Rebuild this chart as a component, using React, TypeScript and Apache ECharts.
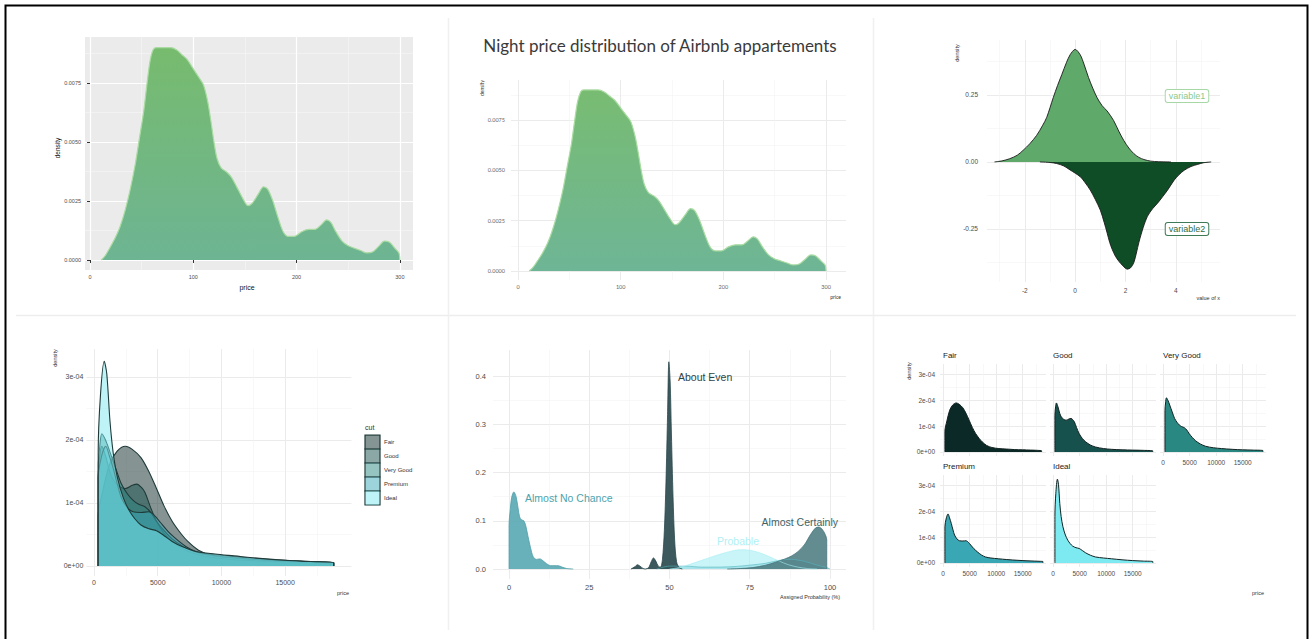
import React, { useEffect, useRef } from 'react';
import * as echarts from 'echarts';

type P = [number, number];

// ---------- data ----------
const priceDensity: P[] = [
  [11, 0], [15, 0.0002], [19, 0.0005], [24, 0.0009], [29, 0.0014], [34, 0.0021], [39, 0.003], [44, 0.0041],
  [48, 0.0052], [52, 0.0063], [55, 0.0074], [58, 0.0084], [61, 0.0089], [64, 0.009], [70, 0.009], [78, 0.009],
  [84, 0.0089], [89, 0.0087], [94, 0.0085], [100, 0.0081], [106, 0.0077], [110, 0.0074], [114, 0.0067],
  [117, 0.0059], [120, 0.005], [123, 0.0043], [127, 0.0039], [133, 0.0037], [137, 0.0035], [142, 0.0031],
  [148, 0.0026], [153, 0.0023], [157, 0.0024], [163, 0.0028], [168, 0.0031], [172, 0.003], [177, 0.0025],
  [182, 0.0018], [187, 0.0012], [192, 0.001], [198, 0.001], [205, 0.0012], [212, 0.0013], [218, 0.0013],
  [224, 0.0015], [229, 0.0017], [233, 0.0016], [238, 0.0012], [244, 0.0008], [250, 0.0006], [256, 0.0005],
  [262, 0.0004], [268, 0.0003], [274, 0.00035], [280, 0.0006], [285, 0.0008], [290, 0.00075], [295, 0.0005],
  [299, 0.0003], [300, 0],
];

const variable1: P[] = [
  [-3.2, 0], [-2.9, 0.004], [-2.6, 0.012], [-2.3, 0.025], [-2.07, 0.043], [-1.8, 0.068], [-1.53, 0.099],
  [-1.3, 0.135], [-1.13, 0.166], [-0.87, 0.24], [-0.7, 0.285], [-0.53, 0.326], [-0.35, 0.37], [-0.2, 0.4],
  [0, 0.42], [0.2, 0.4], [0.35, 0.365], [0.53, 0.315], [0.7, 0.275], [0.87, 0.24], [1.07, 0.21], [1.27, 0.19],
  [1.53, 0.154], [1.73, 0.115], [1.93, 0.08], [2.13, 0.052], [2.33, 0.031], [2.53, 0.017], [2.73, 0.009],
  [3.0, 0.003], [3.3, 0.001], [3.8, 0],
];
const variable2: P[] = [
  [-1.4, 0], [-1.0, -0.002], [-0.73, -0.006], [-0.45, -0.015], [-0.2, -0.03], [0.2, -0.055], [0.4, -0.078],
  [0.6, -0.105], [0.8, -0.14], [1.0, -0.18], [1.15, -0.225], [1.27, -0.265], [1.37, -0.3], [1.47, -0.326],
  [1.6, -0.352], [1.73, -0.37], [1.9, -0.388], [2.07, -0.4], [2.2, -0.395], [2.33, -0.375], [2.43, -0.34],
  [2.53, -0.3], [2.7, -0.245], [2.87, -0.203], [3.07, -0.175], [3.27, -0.154], [3.47, -0.13], [3.67, -0.105],
  [3.93, -0.068], [4.13, -0.047], [4.33, -0.031], [4.6, -0.017], [4.87, -0.009], [5.1, -0.003], [5.4, 0],
];

const fairDensity: P[] = [
  [326, 0], [326, 0.8e-4], [700, 1.2e-4], [1230, 1.62e-4], [1800, 1.82e-4], [2450, 1.9e-4], [3000, 1.85e-4],
  [3680, 1.72e-4], [4300, 1.5e-4], [4900, 1.23e-4], [5500, 0.95e-4], [6130, 0.71e-4], [6800, 0.52e-4],
  [7360, 0.39e-4], [8200, 0.25e-4], [9200, 0.17e-4], [10500, 0.13e-4], [12000, 0.11e-4], [13500, 0.09e-4],
  [15000, 0.08e-4], [16500, 0.07e-4], [17800, 0.06e-4], [18574, 0.04e-4], [18574, 0],
];
const goodDensity: P[] = [
  [327, 0], [327, 1.4e-4], [450, 1.75e-4], [610, 1.9e-4], [900, 1.75e-4], [1230, 1.5e-4], [1530, 1.36e-4],
  [2000, 1.26e-4], [2450, 1.23e-4], [3000, 1.28e-4], [3370, 1.3e-4], [3700, 1.25e-4], [3990, 1.17e-4],
  [4400, 0.95e-4], [4900, 0.71e-4], [5500, 0.52e-4], [6130, 0.39e-4], [7000, 0.27e-4], [7980, 0.19e-4],
  [9500, 0.13e-4], [11000, 0.1e-4], [13000, 0.08e-4], [15000, 0.07e-4], [17000, 0.06e-4], [18788, 0.04e-4],
  [18788, 0],
];
const veryGoodDensity: P[] = [
  [336, 0], [336, 1.6e-4], [450, 1.9e-4], [610, 2.1e-4], [900, 2.0e-4], [1230, 1.82e-4], [1700, 1.55e-4],
  [2150, 1.3e-4], [2600, 1.15e-4], [3070, 1.04e-4], [3500, 0.98e-4], [3990, 0.94e-4], [4450, 0.85e-4],
  [4900, 0.71e-4], [5500, 0.56e-4], [6130, 0.43e-4], [7000, 0.31e-4], [7980, 0.22e-4], [9500, 0.16e-4],
  [11000, 0.13e-4], [13000, 0.1e-4], [15000, 0.08e-4], [17000, 0.07e-4], [18818, 0.05e-4], [18818, 0],
];
const premiumDensity: P[] = [
  [326, 0], [326, 1.4e-4], [600, 1.75e-4], [920, 1.9e-4], [1200, 1.75e-4], [1530, 1.53e-4], [1850, 1.28e-4],
  [2150, 1.08e-4], [2600, 0.93e-4], [3070, 0.86e-4], [3700, 0.85e-4], [4290, 0.86e-4], [4750, 0.8e-4],
  [5210, 0.69e-4], [5800, 0.55e-4], [6440, 0.43e-4], [7200, 0.31e-4], [7980, 0.23e-4], [9000, 0.19e-4],
  [10400, 0.16e-4], [12000, 0.13e-4], [14100, 0.1e-4], [16000, 0.08e-4], [18400, 0.06e-4], [18823, 0.05e-4],
  [18823, 0],
];
const idealDensity: P[] = [
  [326, 0], [326, 1.8e-4], [500, 2.7e-4], [800, 3.25e-4], [1000, 3.05e-4], [1250, 2.3e-4], [1500, 1.8e-4],
  [1840, 1.4e-4], [2300, 1.08e-4], [2760, 0.88e-4], [3200, 0.75e-4], [3680, 0.65e-4], [4300, 0.59e-4],
  [4900, 0.56e-4], [5500, 0.48e-4], [6130, 0.39e-4], [7000, 0.3e-4], [7980, 0.23e-4], [9500, 0.19e-4],
  [11000, 0.16e-4], [13000, 0.12e-4], [15000, 0.09e-4], [17000, 0.07e-4], [18806, 0.05e-4], [18806, 0],
];

const almostNoChance: P[] = [
  [0, 0], [0, 0.09], [0.4, 0.125], [0.8, 0.148], [1.5, 0.16], [2.2, 0.15], [2.8, 0.127], [3.3, 0.108],
  [3.9, 0.102], [4.6, 0.1], [5.2, 0.09], [5.9, 0.068], [6.7, 0.044], [7.5, 0.026], [8.5, 0.02], [9.6, 0.021],
  [10.6, 0.017], [11.7, 0.011], [13, 0.007], [14.3, 0.007], [15.3, 0.007], [16.5, 0.004], [18, 0.001], [20, 0],
];
const aboutEven: P[] = [
  [38, 0], [39.3, 0.005], [40, 0.009], [40.8, 0.006], [41.8, 0.001], [42.5, 0], [43.5, 0.003], [44.3, 0.015],
  [45, 0.023], [45.7, 0.017], [46.5, 0.006], [47.2, 0.004], [47.8, 0.02], [48.4, 0.08], [48.9, 0.18],
  [49.4, 0.32], [49.8, 0.43], [50.2, 0.39], [50.6, 0.28], [51.1, 0.15], [51.6, 0.06], [52.2, 0.015],
  [53, 0.003], [54, 0],
];
const probable: P[] = [
  [50, 0], [53, 0.003], [56, 0.009], [60, 0.018], [64, 0.027], [68, 0.035], [72, 0.04], [75, 0.039],
  [78, 0.034], [81, 0.026], [84, 0.017], [87, 0.009], [90, 0.004], [93, 0.001], [96, 0],
];
const likely: P[] = [
  [46, 0], [50, 0.006], [55, 0.006], [60, 0.004], [65, 0.004], [70, 0.005], [75, 0.008], [80, 0.012],
  [85, 0.019], [88, 0.02], [92, 0.016], [96, 0.008], [99, 0.003], [100, 0],
];
const almostCertainly: P[] = [
  [68, 0], [72, 0.001], [76, 0.003], [80, 0.008], [83, 0.014], [86, 0.021], [88, 0.027], [90, 0.036],
  [92, 0.05], [94, 0.072], [95.5, 0.085], [96.5, 0.087], [97.5, 0.083], [98.5, 0.072], [99, 0.06], [99, 0],
];

// ---------- ticks / categories ----------
const priceTicks = [0, 100, 200, 300];
const priceMinor = [50, 150, 250];
const airbnbDensityTicks = [0, 0.0025, 0.005, 0.0075];
const airbnbDensityMinor = [0.00125, 0.00375, 0.00625, 0.00875];
const valueTicks = [-2, 0, 2, 4];
const valueMinor = [-3, -1, 1, 3, 5];
const mirrorTicks = [-0.25, 0, 0.25];
const mirrorMinor = [-0.375, -0.125, 0.125, 0.375];
const diamondPriceTicks = [0, 5000, 10000, 15000];
const diamondPriceMinor = [2500, 7500, 12500, 17500];
const diamondDensityTicks = [0, 1e-4, 2e-4, 3e-4];
const diamondDensityMinor = [0.5e-4, 1.5e-4, 2.5e-4];
const probTicks = [0, 25, 50, 75, 100];
const probMinor = [12.5, 37.5, 62.5, 87.5];
const probDensityTicks = [0, 0.1, 0.2, 0.3, 0.4];
const probDensityMinor = [0.05, 0.15, 0.25, 0.35];
const cuts = ['Fair', 'Good', 'Very Good', 'Premium', 'Ideal'];
const cutData = [fairDensity, goodDensity, veryGoodDensity, premiumDensity, idealDensity];
const cutColors = ['#0B2A27', '#17514D', '#2A8883', '#3AA7B5', '#7DE9F1'];

const FONT = '"Liberation Sans", Arial, sans-serif';

const fmt4 = (v: number) => v.toFixed(4);
const fmt2 = (v: number) => v.toFixed(2);
const fmt1 = (v: number) => v.toFixed(1);
const fmtInt = (v: number) => String(Math.round(v));
const fmtSci = (v: number) => (Math.abs(v) < 1e-12 ? '0e+00' : `${Math.round(v / 1e-4)}e-04`);

type Panel = {
  left: number; top: number; width: number; height: number;
  x: [number, number]; y: [number, number];
  xMaj: number[]; xMin: number[]; yMaj: number[]; yMin: number[];
  showX: boolean; showY: boolean;
  xFmt: (v: number) => string; yFmt: (v: number) => string;
  fs: number; lc: string; xm: number; ym: number;
  bg?: string; major: string; minor: string; majorW: number; minorW: number;
  ticks?: boolean; font?: string;
};

function buildAxes(panels: Panel[]) {
  const grid: any[] = [];
  const xAxis: any[] = [];
  const yAxis: any[] = [];
  panels.forEach((p, i) => {
    grid.push({
      left: p.left, top: p.top, width: p.width, height: p.height,
      containLabel: false, outerBoundsMode: 'none',
      show: !!p.bg, backgroundColor: p.bg || 'transparent', borderWidth: 0,
    });
    const font = p.font || FONT;
    const tickStyle = { show: !!p.ticks, length: 3, lineStyle: { color: '#333', width: 1 } };
    xAxis.push({
      type: 'value', gridIndex: i, min: p.x[0], max: p.x[1], position: 'bottom',
      axisLine: { show: false },
      axisTick: { ...tickStyle, customValues: p.xMaj },
      axisLabel: { show: p.showX, customValues: p.xMaj, formatter: p.xFmt, fontSize: p.fs, color: p.lc, margin: p.xm, fontFamily: font },
      splitLine: { show: true, lineStyle: { color: p.major, width: p.majorW } },
    });
    xAxis.push({
      type: 'value', gridIndex: i, min: p.x[0], max: p.x[1], position: 'top',
      axisLine: { show: false },
      axisTick: { show: false, customValues: p.xMin },
      axisLabel: { show: false, customValues: p.xMin },
      splitLine: { show: true, lineStyle: { color: p.minor, width: p.minorW } },
    });
    yAxis.push({
      type: 'value', gridIndex: i, min: p.y[0], max: p.y[1], position: 'left',
      axisLine: { show: false },
      axisTick: { ...tickStyle, customValues: p.yMaj },
      axisLabel: { show: p.showY, customValues: p.yMaj, formatter: p.yFmt, fontSize: p.fs, color: p.lc, margin: p.ym, fontFamily: font },
      splitLine: { show: true, lineStyle: { color: p.major, width: p.majorW } },
    });
    yAxis.push({
      type: 'value', gridIndex: i, min: p.y[0], max: p.y[1], position: 'right',
      axisLine: { show: false },
      axisTick: { show: false, customValues: p.yMin },
      axisLabel: { show: false, customValues: p.yMin },
      splitLine: { show: true, lineStyle: { color: p.minor, width: p.minorW } },
    });
  });
  return { grid, xAxis, yAxis };
}

function area(name: string, data: P[], gi: number, fill: any, line: string, lw: number, opacity = 1, z = 2) {
  return {
    type: 'line', name, data, xAxisIndex: 2 * gi, yAxisIndex: 2 * gi,
    smooth: 0.3, symbol: 'none', showSymbol: false, silent: true, z,
    lineStyle: { color: line, width: lw },
    areaStyle: { color: fill, opacity },
  };
}

function txt(text: string, x: number, y: number, o: any = {}) {
  return {
    type: 'text', x, y, rotation: o.rot || 0, silent: true, z: 10,
    style: {
      text, fontSize: o.fs || 7, fill: o.fill || '#222', fontFamily: o.font || FONT,
      align: o.align || 'center', verticalAlign: o.va || 'middle',
      ...(o.box ? { borderColor: o.box, borderWidth: 1, borderRadius: 2, padding: [2, 3, 1, 3], backgroundColor: '#fff' } : {}),
    },
  };
}

export default function App() {
  const ref = useRef<HTMLDivElement>(null);
  useEffect(() => {
    document.body.style.margin = '0';
    if (!ref.current) return;
    const chart = echarts.init(ref.current, undefined, { renderer: 'svg' });

    const whiteMaj = '#EBEBEB';
    const whiteMin = '#F4F4F4';
    const panels: Panel[] = [
      { left: 85, top: 37, width: 328, height: 233, x: [-4.84, 312.7], y: [-0.000424, 0.00945],
        xMaj: priceTicks, xMin: priceMinor, yMaj: airbnbDensityTicks, yMin: airbnbDensityMinor,
        showX: true, showY: true, xFmt: fmtInt, yFmt: fmt4, fs: 5.5, lc: '#4D4D4D', xm: 4, ym: 4,
        bg: '#EBEBEB', major: '#FFFFFF', minor: '#F6F6F6', majorW: 1.2, minorW: 0.6, ticks: true },
      { left: 511, top: 80, width: 335, height: 200, x: [-6.8, 319.4], y: [-0.000447, 0.009493],
        xMaj: priceTicks, xMin: priceMinor, yMaj: airbnbDensityTicks, yMin: airbnbDensityMinor,
        showX: true, showY: true, xFmt: fmtInt, yFmt: fmt4, fs: 5.5, lc: '#666', xm: 4, ym: 6,
        major: whiteMaj, minor: whiteMin, majorW: 1, minorW: 0.6, font: 'Lato, "Open Sans", sans-serif' },
      { left: 987, top: 40, width: 233, height: 242, x: [-3.5, 5.75], y: [-0.448, 0.455],
        xMaj: valueTicks, xMin: valueMinor, yMaj: mirrorTicks, yMin: mirrorMinor,
        showX: true, showY: true, xFmt: fmtInt, yFmt: fmt2, fs: 6.5, lc: '#4D4D4D', xm: 5, ym: 9,
        major: whiteMaj, minor: whiteMin, majorW: 1, minorW: 0.6 },
      { left: 86.4, top: 349, width: 265, height: 227, x: [-600, 20200], y: [-0.159e-4, 3.444e-4],
        xMaj: diamondPriceTicks, xMin: diamondPriceMinor, yMaj: diamondDensityTicks, yMin: diamondDensityMinor,
        showX: true, showY: true, xFmt: fmtInt, yFmt: fmtSci, fs: 7, lc: '#4D4D4D', xm: 3, ym: 3,
        major: whiteMaj, minor: whiteMin, majorW: 1, minorW: 0.6 },
      { left: 493, top: 350, width: 353, height: 229, x: [-5, 105], y: [-0.0207, 0.4544],
        xMaj: probTicks, xMin: probMinor, yMaj: probDensityTicks, yMin: probDensityMinor,
        showX: true, showY: true, xFmt: fmtInt, yFmt: fmt1, fs: 7.5, lc: '#4D4D4D', xm: 4, ym: 7,
        major: whiteMaj, minor: whiteMin, majorW: 1, minorW: 0.6 },
    ];
    const facetCols = [940, 1050, 1160];
    const facetRows = [364, 475];
    cuts.forEach((c, k) => {
      const col = k % 3;
      const row = Math.floor(k / 3);
      const showX = row === 1 || col === 2;
      panels.push({
        left: facetCols[col], top: facetRows[row], width: 106, height: 92, x: [-600, 19400], y: [-0.159e-4, 3.41e-4],
        xMaj: diamondPriceTicks, xMin: diamondPriceMinor, yMaj: diamondDensityTicks, yMin: diamondDensityMinor,
        showX, showY: col === 0, xFmt: fmtInt, yFmt: fmtSci, fs: 6.5, lc: '#4D4D4D', xm: 3, ym: 5,
        major: whiteMaj, minor: whiteMin, majorW: 1, minorW: 0.6,
      });
    });

    const { grid, xAxis, yAxis } = buildAxes(panels);

    const greenGrad = new echarts.graphic.LinearGradient(0, 0, 0, 1, [
      { offset: 0, color: '#77BB6E' },
      { offset: 1, color: '#6DB493' },
    ]);
    const greenGrad2 = new echarts.graphic.LinearGradient(0, 0, 0, 1, [
      { offset: 0, color: '#78BC72' },
      { offset: 1, color: '#6EB596' },
    ]);

    const series: any[] = [
      area('Airbnb price', priceDensity, 0, greenGrad, '#A9DBA2', 1.2),
      area('Airbnb price', priceDensity, 1, greenGrad2, '#A9DBA2', 1.2),
      area('variable1', variable1, 2, '#5FA96B', '#1A1A1A', 0.9),
      area('variable2', variable2, 2, '#0F4D27', '#1A1A1A', 0.9),
    ];
    cuts.forEach((c, k) => {
      series.push(area(c, cutData[k], 3, cutColors[k], '#1F3A39', 1.1, 0.5, 2 + k * 0.01));
    });
    series.push(area('Likely', likely, 4, '#55B3BE', '#55B3BE', 0.6, 0.55));
    series.push(area('Almost No Chance', almostNoChance, 4, '#58A8B2', '#4E9EA8', 0.8, 0.9));
    series.push(area('About Even', aboutEven, 4, '#2D4B4F', '#2A474B', 0.8, 0.92));
    series.push(area('Probable', probable, 4, '#A5EEF4', '#A5EEF4', 0.6, 0.6));
    series.push(area('Almost Certainly', almostCertainly, 4, '#4D7C82', '#45747A', 0.8, 0.88));
    cuts.forEach((c, k) => {
      series.push(area(c, cutData[k], 5 + k, cutColors[k], '#132322', 1, 1));
    });

    const graphic: any[] = [
      { type: 'rect', silent: true, shape: { x: 5.5, y: 5.5, width: 1302, height: 660 }, style: { fill: 'none', stroke: '#000', lineWidth: 2 } },
      { type: 'line', silent: true, shape: { x1: 16, y1: 315.5, x2: 1296, y2: 315.5 }, style: { stroke: '#EDEDED', lineWidth: 1.5 } },
      { type: 'line', silent: true, shape: { x1: 448.5, y1: 18, x2: 448.5, y2: 630 }, style: { stroke: '#F0F0F0', lineWidth: 1.5 } },
      { type: 'line', silent: true, shape: { x1: 873.5, y1: 18, x2: 873.5, y2: 630 }, style: { stroke: '#F0F0F0', lineWidth: 1.5 } },
      // panel 1
      txt('density', 57, 148, { rot: Math.PI / 2, fs: 6.5, fill: '#111' }),
      txt('price', 247, 287, { fs: 7, fill: '#111' }),
      // panel 2
      txt('Night price distribution of Airbnb appartements', 660, 45, { fs: 17, fill: '#3A3A3A', font: 'Lato, "Open Sans", sans-serif' }),
      txt('density', 482, 88, { rot: Math.PI / 2, fs: 5, fill: '#333', font: 'Lato, sans-serif' }),
      txt('price', 841, 297, { fs: 5, fill: '#333', align: 'right', font: 'Lato, sans-serif' }),
      // panel 3
      txt('density', 957, 53, { rot: Math.PI / 2, fs: 5.5, fill: '#333' }),
      txt('value of x', 1220, 298, { fs: 5.5, fill: '#333', align: 'right' }),
      txt('variable1', 1187, 96, { fs: 9, fill: '#8CC98E', box: '#A6D8A6' }),
      txt('variable2', 1187, 229, { fs: 9, fill: '#2F6E4A', box: '#3E7A56' }),
      // panel 4
      txt('density', 55, 358, { rot: Math.PI / 2, fs: 5.5, fill: '#333' }),
      txt('price', 343, 593, { fs: 5.5, fill: '#333' }),
      txt('cut', 365, 427, { fs: 7, fill: '#333', align: 'left' }),
      // panel 5
      txt('About Even', 678, 377, { fs: 10.5, fill: '#2D4447', align: 'left' }),
      txt('Almost No Chance', 525, 498, { fs: 10.5, fill: '#4CA3AD', align: 'left' }),
      txt('Almost Certainly', 838, 522, { fs: 10.5, fill: '#3E6468', align: 'right' }),
      txt('Probable', 717, 541, { fs: 10.5, fill: '#B0F0F5', align: 'left' }),
      txt('Assigned Probability (%)', 840, 597, { fs: 5.5, fill: '#333', align: 'right' }),
      // panel 6
      txt('density', 909, 371, { rot: Math.PI / 2, fs: 5.5, fill: '#333' }),
      txt('price', 1258, 593, { fs: 5.5, fill: '#333' }),
    ];
    // legend keys for panel 4
    cuts.forEach((c, k) => {
      const y = 435 + k * 14;
      graphic.push({
        type: 'rect', silent: true, z: 10,
        shape: { x: 365, y, width: 15, height: 14 },
        style: { fill: cutColors[k], opacity: 1, stroke: '#1F3A39', lineWidth: 1.2 },
      });
      graphic.push({
        type: 'rect', silent: true, z: 11,
        shape: { x: 365.6, y: y + 0.6, width: 13.8, height: 12.8 },
        style: { fill: 'rgba(255,255,255,0.5)' },
      });
      graphic.push(txt(c, 384, y + 7, { fs: 6, fill: '#333', align: 'left' }));
    });
    // facet strip labels
    cuts.forEach((c, k) => {
      const col = k % 3;
      const row = Math.floor(k / 3);
      graphic.push(txt(c, facetCols[col] + 3, facetRows[row] - 9, { fs: 8, fill: '#222', align: 'left' }));
    });

    chart.setOption({
      animation: false,
      backgroundColor: '#FFFFFF',
      grid, xAxis, yAxis, series, graphic,
    });
    return () => chart.dispose();
  }, []);
  return <div ref={ref} style={{ position: 'absolute', left: 0, top: 0, width: 1309, height: 639 }} />;
}
